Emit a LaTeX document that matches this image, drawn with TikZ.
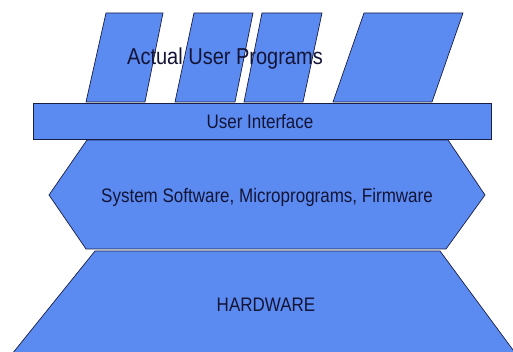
\documentclass[tikz,border=0pt]{standalone}
\usepackage{fontspec}
\setmainfont{Liberation Sans}
\definecolor{layerblue}{RGB}{91,139,240}
\definecolor{edgenavy}{RGB}{25,30,70}
\definecolor{textnavy}{RGB}{20,20,55}
% slightly tall, narrow lettering
\newcommand{\tallText}[1]{\scalebox{1}[1.15]{#1}}
\begin{document}
\begin{tikzpicture}[x=1pt,y=-1pt,
  layer/.style={fill=layerblue,draw=edgenavy,line width=0.7pt,line join=miter},
  lbl/.style={text=textnavy,font=\fontsize{17}{17}\selectfont,inner sep=0pt,anchor=center}]
  \useasboundingbox (0,0) rectangle (513,352);
  \begin{scope}
    \clip (0,0) rectangle (513,352);
    % program slabs standing on the interface bar
    \draw[layer] (86,102) -- (106,13) -- (163,13) -- (145,102) -- cycle;
    \draw[layer] (175,102) -- (194,13) -- (253,13) -- (235,102) -- cycle;
    \draw[layer] (244,102) -- (262,13) -- (322,13) -- (303,102) -- cycle;
    \draw[layer] (333,102) -- (364,13) -- (463,13) -- (432,102) -- cycle;
    \node[lbl,font=\fontsize{20}{20}\selectfont] (progs) at (225,59) {\tallText{Actual User Programs}};
    % hardware base
    \draw[layer] (95,251) -- (440,251) -- (516,354) -- (12,354) -- cycle;
    % system software hexagon
    \draw[layer] (87,140) -- (448,140) -- (485,195) -- (446,249) -- (86,249) -- (49,195) -- cycle;
    % user interface bar
    \draw[layer] (33,103) rectangle (491,139);
  \end{scope}
  \node[lbl] (ui) at (260,122) {\tallText{User Interface}};
  \node[lbl] (sys) at (267,197) {\tallText{System Software, Microprograms, Firmware}};
  \node[lbl] (hw) at (266,305) {\tallText{HARDWARE}};
\end{tikzpicture}
\end{document}
